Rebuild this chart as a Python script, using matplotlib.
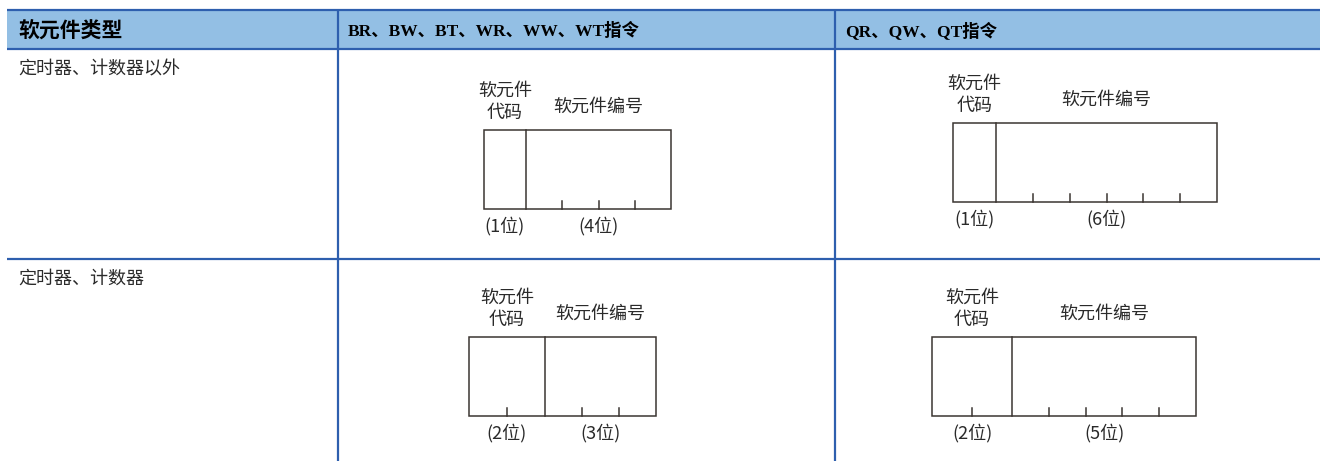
import matplotlib.pyplot as plt
from matplotlib.patches import Rectangle

plt.rcParams['font.family'] = ['Noto Sans CJK SC', 'DejaVu Sans']

# table content
headers = ['软元件类型', 'BR、BW、BT、WR、WW、WT指令', 'QR、QW、QT指令']
row_labels = ['定时器、计数器以外', '定时器、计数器']
code_digits = [[1, 1], [2, 2]]      # rows x (col BR.., col QR..)
number_digits = [[4, 6], [3, 5]]
code_label = '软元件\n代码'
number_label = '软元件编号'

# layout in pixels
W, H = 1320, 461
table_left = 7
col_x = [338, 835]
header_top, header_bot = 10.5, 49.5
row_div = 259
line_blue = '#2e5fae'
fill_blue = '#93bfe4'
box_color = '#3b3531'
text_color = '#2a2a2a'

# box placement per cell: (left, top, code width, number width)
boxes = [[(484, 130, 42, 145), (953, 123, 43, 221)],
         [(469, 337, 76, 111), (932, 337, 80, 184)]]
box_h = 79

fig = plt.figure(figsize=(W / 100, H / 100), dpi=100)
ax = fig.add_axes([0, 0, 1, 1])
ax.set_xlim(0, W)
ax.set_ylim(H, 0)
ax.axis('off')

# header
ax.add_patch(Rectangle((table_left, header_top), W - table_left, header_bot - header_top,
                       facecolor=fill_blue, edgecolor='none'))
for y in [header_top, header_bot, row_div]:
    ax.plot([table_left, W], [y, y], color=line_blue, lw=1.6, solid_capstyle='butt')
for x in col_x:
    ax.plot([x, x], [header_top, H], color=line_blue, lw=1.6, solid_capstyle='butt')

hx = [18, col_x[0] + 10, col_x[1] + 10]
for i, h in enumerate(headers):
    if i == 0:
        ax.text(hx[i], 31, h, fontsize=15, fontweight='bold', va='center', ha='left',
                color='black')
    else:
        ax.text(hx[i], 31, h, fontsize=12.5, fontweight='bold',
                family=['Liberation Serif', 'Noto Sans CJK SC'], va='center', ha='left',
                color='black')

row_text_y = [69.5, 279]
for r, lab in enumerate(row_labels):
    ax.text(18, row_text_y[r], lab, fontsize=13, va='center', ha='left', color=text_color)


def draw_field(left, top, width, digits):
    # ticks between digits along the bottom edge
    step = width / digits
    for k in range(1, digits):
        x = left + step * k
        ax.plot([x, x], [top + box_h, top + box_h - 8], color=box_color, lw=1.1)


for r in range(2):
    for c in range(2):
        left, top, cw, nw = boxes[r][c]
        cd, nd = code_digits[r][c], number_digits[r][c]
        ax.add_patch(Rectangle((left, top), cw + nw, box_h, facecolor='none',
                               edgecolor=box_color, lw=1.1))
        ax.plot([left + cw, left + cw], [top, top + box_h], color=box_color, lw=1.1)
        draw_field(left, top, cw, cd)
        draw_field(left + cw, top, nw, nd)
        ccx = left + cw / 2
        ncx = left + cw + nw / 2
        ax.text(ccx, top - 28, code_label, fontsize=13, ha='center', va='center',
                linespacing=1.3, color=text_color)
        ax.text(ncx, top - 23, number_label, fontsize=13, ha='center', va='center',
                color=text_color)
        ax.text(ccx, top + box_h + 17, '(%d位)' % cd, fontsize=13, ha='center',
                va='center', color=text_color)
        ax.text(ncx, top + box_h + 17, '(%d位)' % nd, fontsize=13, ha='center',
                va='center', color=text_color)

plt.savefig('out.png', dpi=100)
